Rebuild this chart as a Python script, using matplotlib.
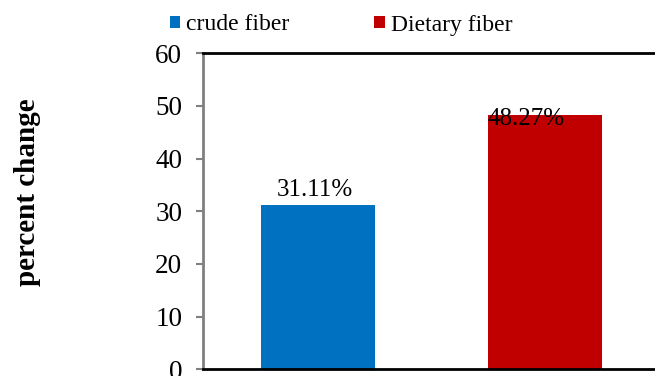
import numpy as np
import matplotlib
matplotlib.use("Agg")
import matplotlib.pyplot as plt
from matplotlib.patches import Patch

# values
categories = ["crude fiber", "Dietary fiber"]
values = [31.11, 48.27]
labels = ["31.11%", "48.27%"]
colors = ["#0070C0", "#C00000"]
yticks = [0, 10, 20, 30, 40, 50, 60]

plt.rcParams['font.family'] = ['Liberation Serif', 'DejaVu Serif']

fig = plt.figure(figsize=(6.55, 3.76), dpi=100)
ax = fig.add_axes([203 / 655, (376 - 369.3) / 376, 456 / 655, 316 / 376])

x = np.arange(len(categories))
bars = ax.bar(x, values, width=0.5, color=colors, zorder=2)

ax.set_xlim(-0.505, 1.5)
ax.set_ylim(0, 60)
ax.set_yticks(yticks)
ax.set_xticks([])
ax.tick_params(axis='y', labelsize=19.5, color='#808080', length=5, width=1.5, pad=10)

ax.spines['left'].set_color('#808080')
ax.spines['left'].set_linewidth(2)
for side in ['top', 'bottom', 'right']:
    ax.spines[side].set_color('black')
    ax.spines[side].set_linewidth(2)

ax.set_ylabel("percent change", fontsize=21, fontweight='bold')
ax.yaxis.set_label_coords(-0.355, 0.56)

# data labels (Excel put them a bit unevenly)
offsets = [(-2, 11), (-14, -3)]
for xi, v, lab, off in zip(x, values, labels, offsets):
    ax.annotate(lab, (xi, v), xytext=off, textcoords='offset points',
                ha='center', va='center', fontsize=18)

handles = [Patch(facecolor=c, edgecolor='none') for c in colors]
fig.legend(handles, categories, loc='center', bbox_to_anchor=(341 / 655, 1 - 25 / 376),
           ncol=2, frameon=False, fontsize=17, handlelength=0.45, handleheight=0.45,
           handletextpad=0.25, columnspacing=3.6, borderpad=0)

fig.savefig("out.png", dpi=100)
